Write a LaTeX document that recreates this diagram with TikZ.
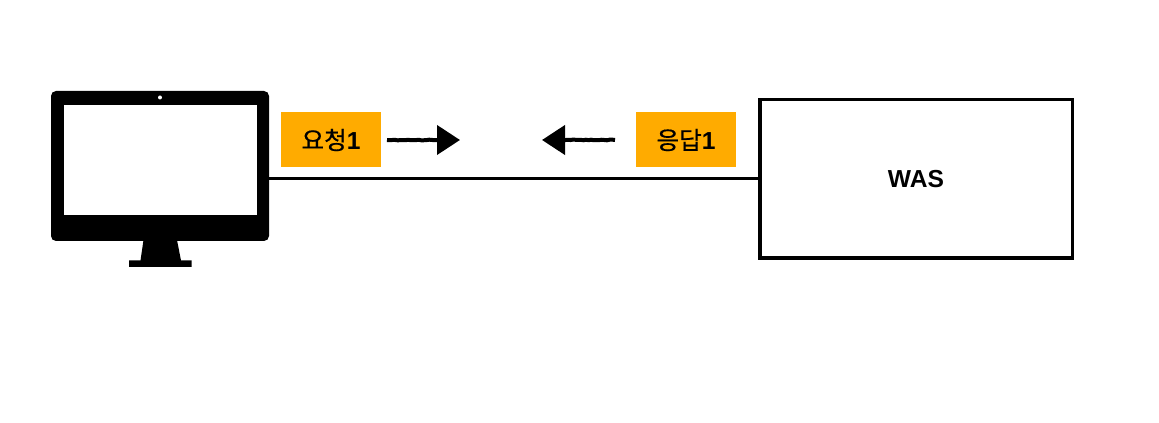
\documentclass[tikz,border=0pt]{standalone}
\usepackage{fontspec}
\setmainfont{Liberation Sans}
\newfontfamily\krfont[FakeBold=0.5]{Noto Sans CJK KR}
\usetikzlibrary{positioning}
\usetikzlibrary{arrows.meta}
\usetikzlibrary{decorations.pathmorphing}
\definecolor{tagorange}{HTML}{FFAB00}
\tikzset{
  tagbox/.style={fill=tagorange,minimum width=2cm,minimum height=1.1cm,inner sep=0pt,font=\fontsize{14}{16}\selectfont\bfseries},
  wire/.style={line width=0.06cm},
  flow/.style={line width=0.08cm,-{Triangle[length=0.46cm,width=0.58cm]},decorate,decoration={random steps,segment length=1.5pt,amplitude=0.2pt,post length=0.3cm}},
}
\begin{document}
\begin{tikzpicture}
\useasboundingbox (0,0) rectangle (23.18,8.46);
% monitor
\node (pc) at (3.2,5.14) [fill=black,rounded corners=0.1cm,minimum width=4.36cm,minimum height=3cm,inner sep=0pt] {};
\node (screen) at (3.2,5.26) [fill=white,minimum width=3.86cm,minimum height=2.2cm,inner sep=0pt] {};
\fill[white] (3.2,6.51) circle (0.04);
\fill (2.87,3.66) -- (3.54,3.66) -- (3.62,3.25) -- (3.83,3.25) -- (3.83,3.12) -- (2.58,3.12) -- (2.58,3.25) -- (2.81,3.25) -- cycle;
% server
\node (was) at (18.32,4.88) [draw=black,line width=0.07cm,minimum width=6.25cm,minimum height=3.17cm,inner sep=0pt,font=\fontsize{14}{16}\selectfont\bfseries] {\raisebox{-0.02cm}{WAS}};
\draw[wire] (pc.east |- was.west) -- (was.west);
% labels
\node (req) at (6.62,5.66) [tagbox] {{\krfont\mdseries 요청}1};
\node (res) at (13.72,5.66) [tagbox] {{\krfont\mdseries 응답}1};
\coordinate (reqfrom) at (7.74,5.66);
\coordinate (reqto) at (9.2,5.66);
\coordinate (resfrom) at (12.3,5.66);
\coordinate (resto) at (10.84,5.66);
\draw[flow] (reqfrom) -- (reqto);
\draw[flow] (resfrom) -- (resto);
\end{tikzpicture}
\end{document}
